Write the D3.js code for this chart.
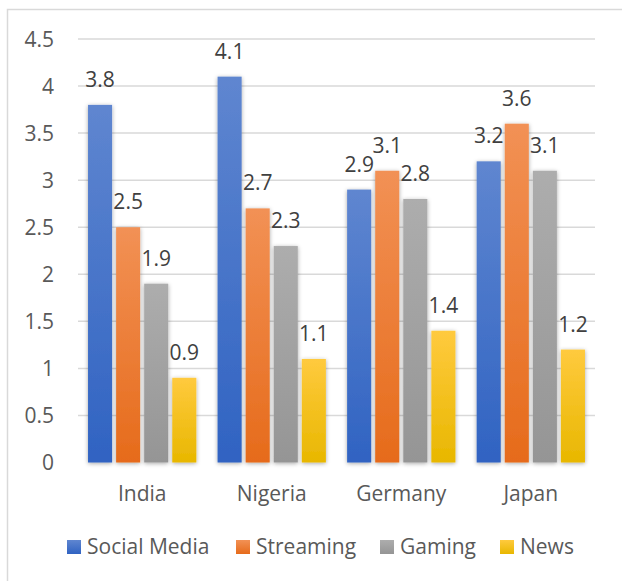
<!DOCTYPE html>
<html>
<head>
<meta charset="utf-8">
<script src="https://cdn.jsdelivr.net/npm/d3@7"></script>
<style>
  html, body { margin: 0; padding: 0; background: #fff; }
  svg { display: block; }
  text { font-family: "Open Sans", "Noto Sans", sans-serif; }
</style>
</head>
<body>
<svg id="chart" width="622" height="581"></svg>
<script>
const categories = ["India", "Nigeria", "Germany", "Japan"];
const seriesNames = ["Social Media", "Streaming", "Gaming", "News"];
const socialMedia = [3.8, 4.1, 2.9, 3.2];
const streaming = [2.5, 2.7, 3.1, 3.6];
const gaming = [1.9, 2.3, 2.8, 3.1];
const news = [0.9, 1.1, 1.4, 1.2];
const yTicks = [0, 0.5, 1, 1.5, 2, 2.5, 3, 3.5, 4, 4.5];

const seriesValues = [socialMedia, streaming, gaming, news];
const colors = [
  ["#5f86d0", "#3063c2"],
  ["#f29155", "#e66b1b"],
  ["#adadad", "#959595"],
  ["#ffca3e", "#e8b700"]
];

const svg = d3.select("#chart");
const defs = svg.append("defs");

const shadow = defs.append("filter").attr("id", "shadow")
  .attr("x", "-50%").attr("y", "-10%").attr("width", "200%").attr("height", "120%");
shadow.append("feDropShadow").attr("dx", 0).attr("dy", 1)
  .attr("stdDeviation", 2).attr("flood-color", "#000").attr("flood-opacity", 0.35);

colors.forEach((c, i) => {
  const g = defs.append("linearGradient").attr("id", "grad" + i)
    .attr("x1", 0).attr("y1", 0).attr("x2", 0).attr("y2", 1);
  g.append("stop").attr("offset", "0%").attr("stop-color", c[0]);
  g.append("stop").attr("offset", "100%").attr("stop-color", c[1]);
});

// chart border (right and bottom edges fall outside the picture)
svg.append("rect").attr("x", 7.5).attr("y", 9.5).attr("width", 640).attr("height", 620)
  .attr("fill", "none").attr("stroke", "#d9d9d9").attr("stroke-width", 1.5);

const x0 = d3.scaleBand().domain(categories).range([78, 595])
  .paddingInner(0.164).paddingOuter(0.0774);
const x1 = d3.scaleBand().domain(seriesNames).range([0, x0.bandwidth()])
  .paddingInner(4 / 28).paddingOuter(0);
const y = d3.scaleLinear().domain([0, 4.5]).range([462.5, 39]);

const FS = 21;

// gridlines
svg.append("g").selectAll("line").data(yTicks.filter(t => t > 0)).join("line")
  .attr("x1", 78).attr("x2", 595)
  .attr("y1", d => y(d)).attr("y2", d => y(d))
  .attr("stroke", "#d9d9d9").attr("stroke-width", 1.5);

// y tick labels
svg.append("g").selectAll("text").data(yTicks).join("text")
  .attr("x", 54).attr("y", d => y(d) + 7.5)
  .attr("text-anchor", "end").attr("font-size", FS).attr("fill", "#595959")
  .text(d => d);

// bars
const groups = svg.append("g").selectAll("g").data(categories).join("g")
  .attr("transform", c => `translate(${x0(c)},0)`);

groups.each(function(c, ci) {
  const g = d3.select(this);
  seriesNames.forEach((s, si) => {
    const v = seriesValues[si][ci];
    g.append("rect")
      .attr("x", x1(s)).attr("width", x1.bandwidth())
      .attr("y", y(v)).attr("height", y(0) - y(v))
      .attr("fill", `url(#grad${si})`)
      .attr("filter", "url(#shadow)");
  });
});

// axis line
svg.append("line").attr("x1", 78).attr("x2", 595).attr("y1", y(0) + 0.5).attr("y2", y(0) + 0.5)
  .attr("stroke", "#bfbfbf").attr("stroke-width", 2).attr("filter", "url(#shadow)");

// data labels
groups.each(function(c, ci) {
  const g = d3.select(this);
  seriesNames.forEach((s, si) => {
    const v = seriesValues[si][ci];
    g.append("text")
      .attr("x", x1(s) + x1.bandwidth() / 2).attr("y", y(v) - 18)
      .attr("text-anchor", "middle").attr("font-size", FS).attr("fill", "#404040")
      .text(v);
  });
});

// category labels
svg.append("g").selectAll("text").data(categories).join("text")
  .attr("x", c => x0(c) + x0.bandwidth() / 2).attr("y", 500.5)
  .attr("text-anchor", "middle").attr("font-size", FS).attr("fill", "#595959")
  .text(c => c);

// legend
const legendX = [67, 236, 380, 500];
const legend = svg.append("g").selectAll("g").data(seriesNames).join("g")
  .attr("transform", (d, i) => `translate(${legendX[i]},540)`);
legend.append("rect").attr("width", 14).attr("height", 14)
  .attr("fill", (d, i) => `url(#grad${i})`);
legend.append("text").attr("x", 20).attr("y", 14)
  .attr("font-size", FS).attr("fill", "#595959").text(d => d);
</script>
</body>
</html>
